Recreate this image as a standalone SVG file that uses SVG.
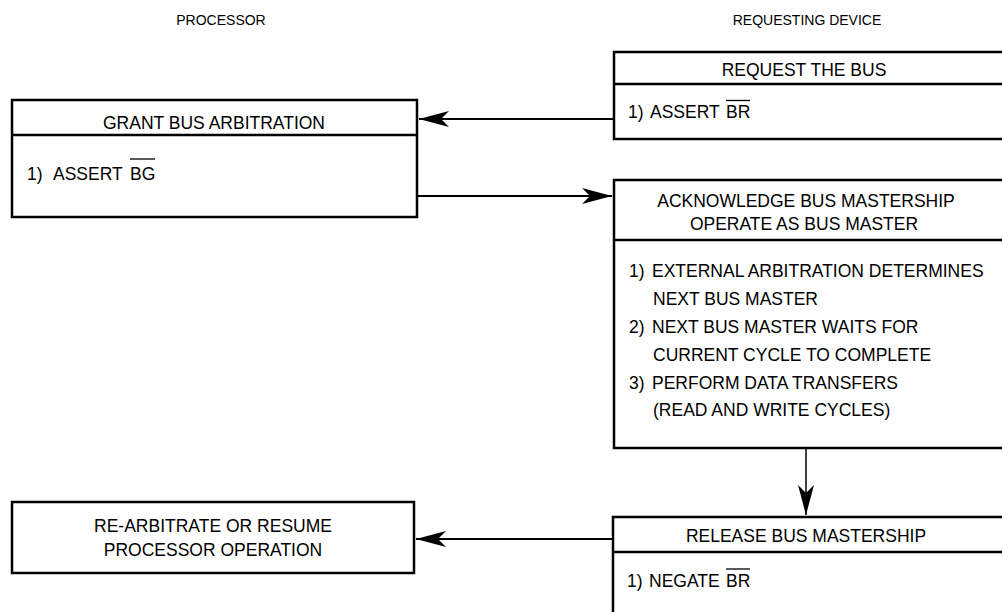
<svg xmlns="http://www.w3.org/2000/svg" width="1002" height="612" viewBox="0 0 1002 612">
<style>
  .box { fill: #fff; stroke: #000; stroke-width: 2.5; }
  .div { stroke: #000; stroke-width: 2.5; }
  .t { font-family: "Liberation Sans", Arial, sans-serif; font-size: 17.5px; fill: #000; }
  .c { text-anchor: middle; }
  .h { font-family: "Liberation Sans", Arial, sans-serif; font-size: 14px; fill: #000; text-anchor: middle; }
  .ov { stroke: #000; stroke-width: 1.3; }
  .conn { stroke: #000; stroke-width: 2; fill: none; }
  .conn2 { stroke: #000; stroke-width: 1.5; fill: none; }
</style>
<defs>
  <marker id="ah" markerUnits="userSpaceOnUse" markerWidth="34" markerHeight="20" refX="31" refY="8.5" orient="auto">
    <path d="M31,8.5 L1,0.5 L9,8.5 L1,16.5 Z" fill="#000"/>
  </marker>
</defs>

<rect width="1002" height="612" fill="#fff"/>

<g id="headers">
  <text class="h" x="221" y="25">PROCESSOR</text>
  <text class="h" x="807" y="25">REQUESTING DEVICE</text>
</g>

<g id="connectors">
  <line class="conn" x1="614" y1="119" x2="419" y2="119" marker-end="url(#ah)"/>
  <line class="conn" x1="417" y1="196" x2="612" y2="196" marker-end="url(#ah)"/>
  <line class="conn2" x1="806" y1="448" x2="806" y2="515" marker-end="url(#ah)"/>
  <line class="conn" x1="613" y1="539" x2="416" y2="539" marker-end="url(#ah)"/>
</g>

<g id="request">
  <rect class="box" x="614" y="52" width="400" height="87"/>
  <line class="div" x1="614" y1="84" x2="1014" y2="84"/>
  <text class="t c" x="804" y="76">REQUEST THE BUS</text>
  <text class="t" x="628" y="118">1)<tspan x="650">ASSERT</tspan><tspan x="726">BR</tspan></text>
  <line class="ov" x1="726" y1="100.5" x2="750" y2="100.5"/>
</g>

<g id="grant">
  <rect class="box" x="12" y="100" width="405" height="117"/>
  <line class="div" x1="12" y1="135" x2="417" y2="135"/>
  <text class="t c" x="214" y="129">GRANT BUS ARBITRATION</text>
  <text class="t" x="27" y="180">1)<tspan x="53">ASSERT</tspan><tspan x="130">BG</tspan></text>
  <line class="ov" x1="130" y1="159" x2="155" y2="159"/>
</g>

<g id="acknowledge">
  <rect class="box" x="614" y="180" width="400" height="268"/>
  <line class="div" x1="614" y1="240" x2="1014" y2="240"/>
  <text class="t c" x="806" y="207">ACKNOWLEDGE BUS MASTERSHIP</text>
  <text class="t c" x="804" y="230">OPERATE AS BUS MASTER</text>
  <text class="t" x="629" y="277">1)<tspan x="652">EXTERNAL ARBITRATION DETERMINES</tspan></text>
  <text class="t" x="653" y="305">NEXT BUS MASTER</text>
  <text class="t" x="629" y="333">2)<tspan x="652">NEXT BUS MASTER WAITS FOR</tspan></text>
  <text class="t" x="653" y="361">CURRENT CYCLE TO COMPLETE</text>
  <text class="t" x="629" y="389">3)<tspan x="652">PERFORM DATA TRANSFERS</tspan></text>
  <text class="t" x="653" y="416">(READ AND WRITE CYCLES)</text>
</g>

<g id="release">
  <rect class="box" x="613" y="517" width="401" height="110"/>
  <line class="div" x1="613" y1="552" x2="1014" y2="552"/>
  <text class="t c" x="806" y="542">RELEASE BUS MASTERSHIP</text>
  <text class="t" x="627" y="587">1)<tspan x="649">NEGATE</tspan><tspan x="726">BR</tspan></text>
  <line class="ov" x1="726" y1="569" x2="750" y2="569"/>
</g>

<g id="rearbitrate">
  <rect class="box" x="12" y="502" width="402" height="71"/>
  <text class="t c" x="213" y="532">RE-ARBITRATE OR RESUME</text>
  <text class="t c" x="213" y="556">PROCESSOR OPERATION</text>
</g>
</svg>
